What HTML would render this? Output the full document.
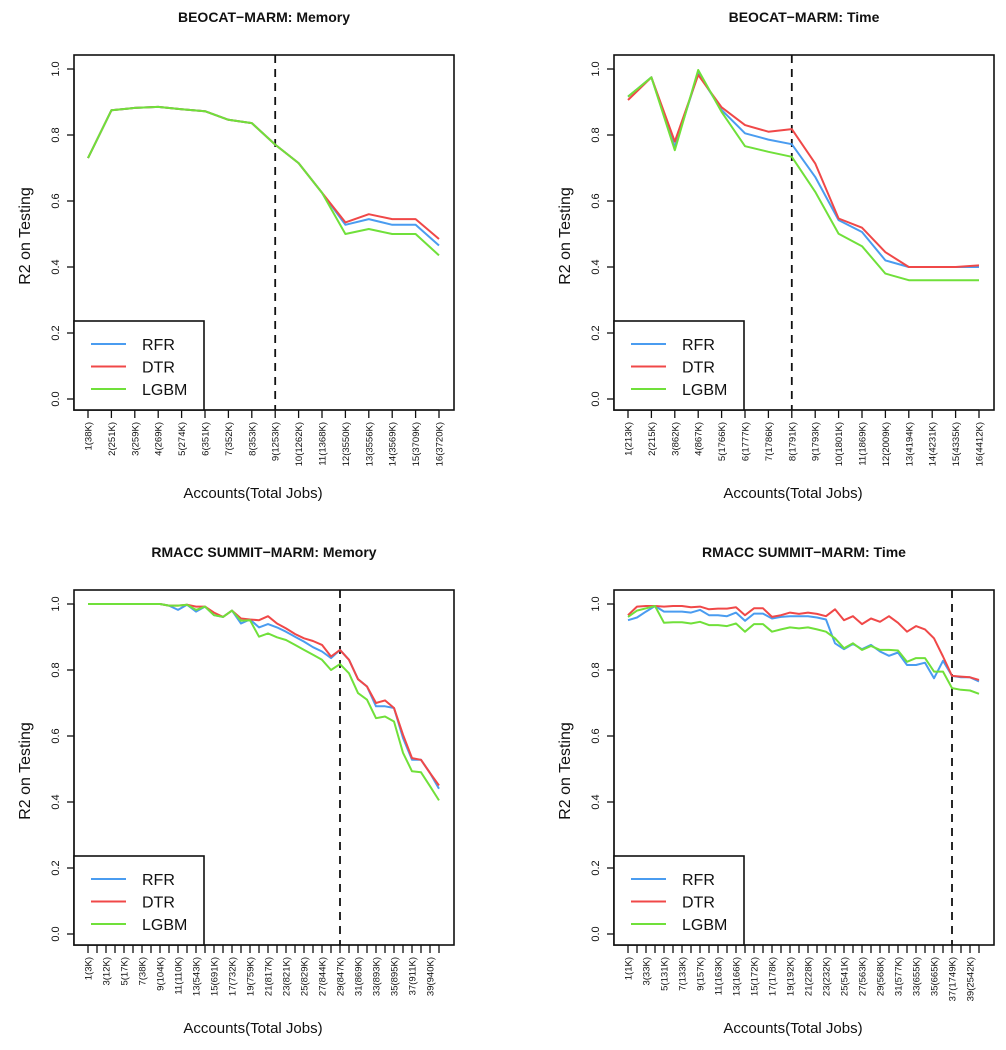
<!DOCTYPE html>
<html><head><meta charset="utf-8"><style>
html,body{margin:0;padding:0;background:#fff;}
svg{display:block;font-family:"Liberation Sans",Arial,sans-serif;}
</style></head><body>
<svg id="fig" width="1006" height="1050" viewBox="0 0 1006 1050" xmlns="http://www.w3.org/2000/svg"></svg>
<script>
const NS="http://www.w3.org/2000/svg";
const yTicks=[0,0.2,0.4,0.6,0.8,1.0];
const yTickLabels=["0.0","0.2","0.4","0.6","0.8","1.0"];
const seriesNames=["RFR","DTR","LGBM"];
const seriesColors=["#4a9cf0","#f04848","#70e03a"];

const tlTitle="BEOCAT\u2212MARM: Memory";
const tlLabels=["1(38K)","2(251K)","3(259K)","4(269K)","5(274K)","6(351K)","7(352K)","8(353K)","9(1253K)","10(1262K)","11(1368K)","12(3550K)","13(3556K)","14(3569K)","15(3709K)","16(3720K)"];
const tlRFR=[.73,.875,.882,.885,.878,.872,.846,.836,.771,.715,.625,.528,.545,.528,.528,.465];
const tlDTR=[.73,.875,.882,.885,.878,.872,.846,.836,.771,.715,.625,.535,.56,.545,.545,.485];
const tlLGBM=[.73,.875,.882,.885,.878,.872,.846,.836,.771,.715,.625,.5,.515,.5,.5,.435];
const tlCut=9;

const trTitle="BEOCAT\u2212MARM: Time";
const trLabels=["1(213K)","2(215K)","3(862K)","4(867K)","5(1766K)","6(1777K)","7(1786K)","8(1791K)","9(1793K)","10(1801K)","11(1869K)","12(2009K)","13(4194K)","14(4231K)","15(4335K)","16(4412K)"];
const trRFR=[.916,.975,.764,.987,.876,.805,.786,.772,.673,.542,.506,.42,.40,.40,.40,.40];
const trDTR=[.906,.975,.78,.982,.884,.83,.81,.818,.714,.547,.519,.445,.40,.40,.40,.405];
const trLGBM=[.916,.975,.754,.997,.87,.766,.749,.734,.628,.501,.463,.38,.36,.36,.36,.36];
const trCut=8;

const blTitle="RMACC SUMMIT\u2212MARM: Memory";
const blLabels=["1(3K)","","3(12K)","","5(17K)","","7(38K)","","9(104K)","","11(110K)","","13(543K)","","15(691K)","","17(732K)","","19(759K)","","21(817K)","","23(821K)","","25(829K)","","27(844K)","","29(847K)","","31(869K)","","33(893K)","","35(895K)","","37(911K)","","39(940K)",""];
const blRFR=[1,1,1,1,1,1,1,1,1,.995,.982,.998,.977,.992,.966,.961,.98,.941,.953,.929,.939,.929,.916,.901,.886,.869,.856,.836,.861,.831,.772,.75,.69,.69,.685,.594,.528,.528,.488,.44];
const blDTR=[1,1,1,1,1,1,1,1,1,.995,.995,.998,.992,.992,.974,.961,.98,.956,.953,.951,.963,.941,.926,.909,.896,.888,.876,.841,.861,.831,.772,.75,.70,.708,.685,.604,.533,.528,.488,.45];
const blLGBM=[1,1,1,1,1,1,1,1,1,.995,.995,.998,.982,.992,.966,.961,.98,.949,.951,.901,.911,.899,.891,.876,.861,.846,.831,.80,.818,.79,.73,.71,.654,.659,.644,.549,.493,.49,.448,.405];
const blCut=29;

const brTitle="RMACC SUMMIT\u2212MARM: Time";
const brLabels=["1(1K)","","3(33K)","","5(131K)","","7(133K)","","9(157K)","","11(163K)","","13(166K)","","15(172K)","","17(178K)","","19(192K)","","21(228K)","","23(232K)","","25(541K)","","27(563K)","","29(568K)","","31(577K)","","33(655K)","","35(665K)","","37(1749K)","","39(2542K)",""];
const brRFR=[.951,.959,.977,.994,.977,.977,.977,.974,.982,.966,.966,.963,.974,.949,.971,.971,.956,.961,.963,.963,.963,.959,.953,.881,.863,.879,.863,.876,.856,.843,.853,.815,.815,.822,.775,.828,.782,.778,.778,.765];
const brDTR=[.966,.992,.994,.994,.992,.994,.994,.99,.992,.984,.986,.986,.99,.966,.987,.987,.961,.966,.974,.97,.974,.97,.963,.984,.951,.963,.939,.956,.946,.963,.943,.916,.933,.923,.896,.841,.782,.78,.778,.77];
const brLGBM=[.961,.98,.987,.994,.943,.945,.945,.941,.946,.936,.936,.933,.941,.916,.939,.939,.916,.923,.929,.926,.929,.923,.916,.896,.866,.881,.861,.873,.861,.861,.859,.825,.836,.836,.795,.795,.745,.74,.738,.728];
const brCut=37;

const svg=document.getElementById('fig');
function mk(tag,attrs,parent,text){const e=document.createElementNS(NS,tag);for(const k in attrs)e.setAttribute(k,attrs[k]);if(text!==undefined)e.textContent=text;(parent||svg).appendChild(e);return e;}

function panel(name,ox,oy,title,labels,series,cut){
  const g=mk('g',{});
  
  
  const L=ox+74,R=ox+454,T=oy+55,B=oy+410;
  const x0=ox+88,x1=ox+439;
  const n=labels.length;
  const xs=i=>x0+(x1-x0)*i/(n-1);
  const ys=v=>oy+399-330*v;
  const t=mk('text',{x:(L+R)/2,y:oy+22,'text-anchor':'middle','font-size':'14','font-weight':'bold',fill:'#111'},g,title);
  
  
  const box=mk('rect',{x:L,y:T,width:R-L,height:B-T,fill:'none',stroke:'#111','stroke-width':1.6},g);
  
  
  // y axis
  const ya=mk('g',{},g);
  
  
  mk('line',{x1:L,x2:L,y1:ys(0),y2:ys(1),stroke:'#111','stroke-width':1.3},ya);
  yTicks.forEach((v,i)=>{
    mk('line',{x1:L-7,x2:L,y1:ys(v),y2:ys(v),stroke:'#111','stroke-width':1.3},ya);
    const tl=mk('text',{x:0,y:0,transform:`translate(${L-15},${ys(v)}) rotate(-90)`,'text-anchor':'middle','font-size':'11',fill:'#111'},ya,yTickLabels[i]);
    
    
  });
  const yt=mk('text',{x:0,y:0,transform:`translate(${ox+30},${(ys(0)+ys(1))/2+2}) rotate(-90)`,'text-anchor':'middle','font-size':'16',fill:'#111'},g,'R2 on Testing');
  
  
  // x axis
  const xa=mk('g',{},g);
  
  
  mk('line',{x1:x0,x2:x1,y1:B,y2:B,stroke:'#111','stroke-width':1.3},xa);
  labels.forEach((lab,i)=>{
    mk('line',{x1:xs(i),x2:xs(i),y1:B,y2:B+8,stroke:'#111','stroke-width':1.3},xa);
    if(lab){
      const tl=mk('text',{x:0,y:0,transform:`translate(${xs(i)+3.5},${B+12}) rotate(-90)`,'text-anchor':'end','font-size':'9.5',fill:'#111'},xa,lab);
      
      
    }
  });
  const xt=mk('text',{x:(L+R)/2-11,y:oy+498,'text-anchor':'middle','font-size':'15',fill:'#111'},g,'Accounts(Total Jobs)');
  
  
  // cut line
  const cl=mk('line',{x1:xs(cut-1),x2:xs(cut-1),y1:T,y2:B,stroke:'#111','stroke-width':1.8,'stroke-dasharray':'8,6'},g);
  
  
  // series
  series.forEach((vals,si)=>{
    const p=mk('polyline',{points:vals.map((v,i)=>xs(i).toFixed(1)+','+ys(v).toFixed(1)).join(' '),fill:'none',stroke:seriesColors[si],'stroke-width':2,'stroke-linejoin':'round'},g);
    
    
  });
  // legend
  const lg=mk('g',{},g);
  
  
  mk('rect',{x:L,y:oy+321,width:130,height:B-(oy+321),fill:'#fff',stroke:'#111','stroke-width':1.6},lg);
  seriesNames.forEach((nm,si)=>{
    const yy=oy+344+si*22.5;
    const en=mk('g',{},lg);
    
    
    mk('line',{x1:L+17,x2:L+52,y1:yy,y2:yy,stroke:seriesColors[si],'stroke-width':2},en);
    mk('text',{x:L+68,y:yy+6,'font-size':'16',fill:'#111'},en,nm);
  });
}
panel('memory-beocat-chart',0,0,tlTitle,tlLabels,[tlRFR,tlDTR,tlLGBM],tlCut);
panel('time-beocat-chart',540,0,trTitle,trLabels,[trRFR,trDTR,trLGBM],trCut);
panel('memory-rmacc-chart',0,535,blTitle,blLabels,[blRFR,blDTR,blLGBM],blCut);
panel('time-rmacc-chart',540,535,brTitle,brLabels,[brRFR,brDTR,brLGBM],brCut);
</script>
</body></html>
